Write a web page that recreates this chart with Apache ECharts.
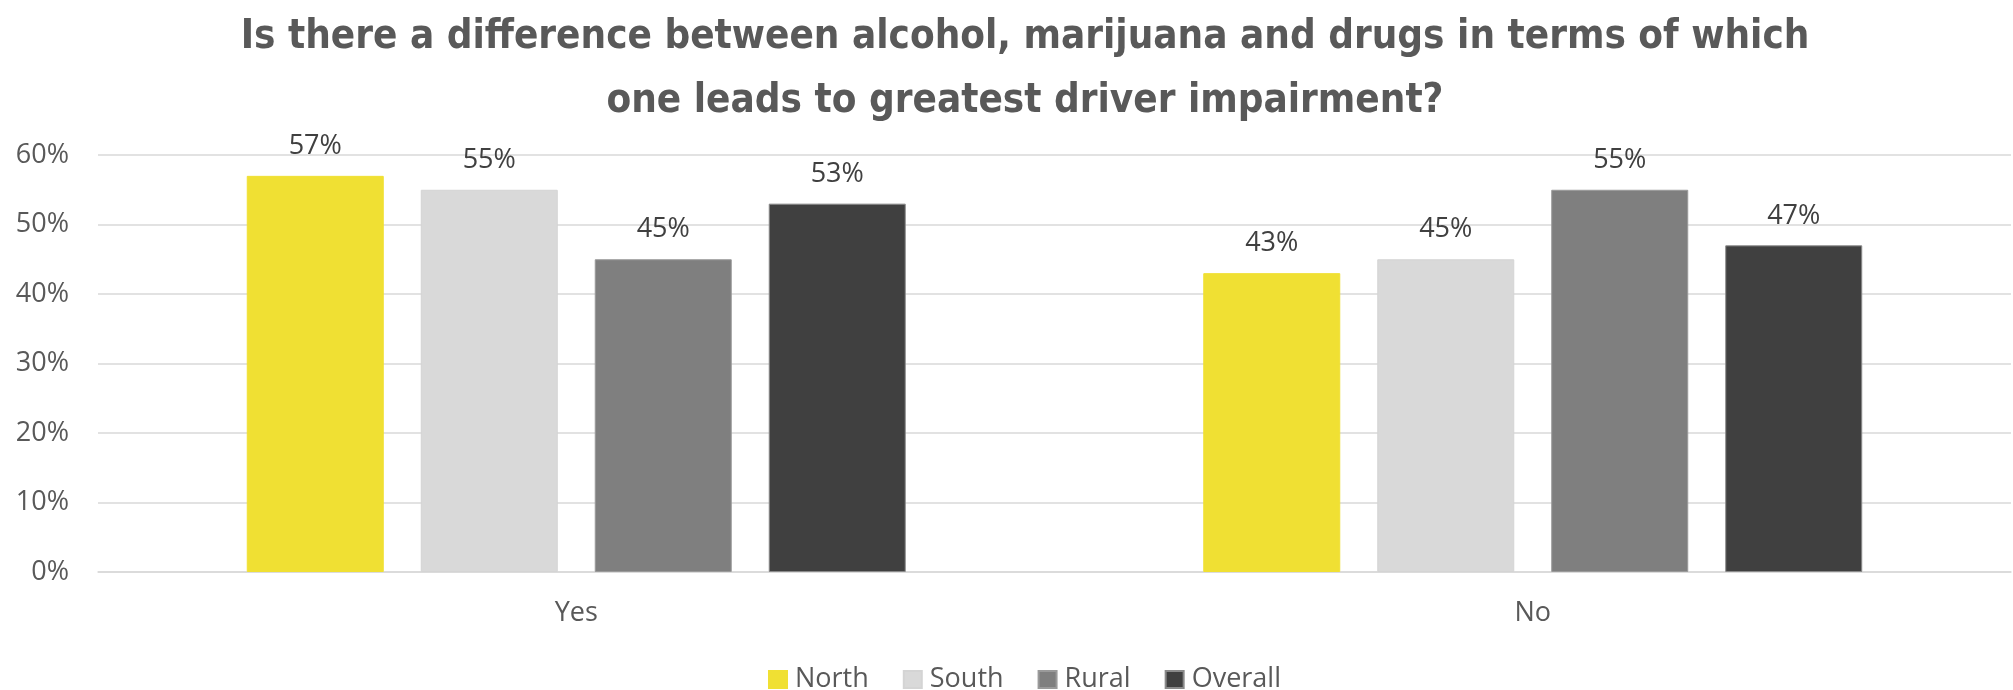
<!DOCTYPE html>
<html>
<head>
<meta charset="utf-8">
<script src="https://cdn.jsdelivr.net/npm/echarts@6/dist/echarts.min.js"></script>
<style>
  html, body { margin: 0; padding: 0; background: #ffffff; }
  #chart { width: 2013px; height: 690px; }
</style>
</head>
<body>
<div id="chart"></div>
<script>
// Survey answers by region (percent of respondents)
const titleText = 'Is there a difference between alcohol, marijuana and drugs in terms of which\none leads to greatest driver impairment?';
const categories = ['Yes', 'No'];
const seriesNames = ['North', 'South', 'Rural', 'Overall'];
const north = [57, 43];
const south = [55, 45];
const rural = [45, 55];
const overall = [53, 47];
const yTicks = [0, 10, 20, 30, 40, 50, 60];

const seriesValues = [north, south, rural, overall];
const colors = ['#F0E033', '#D9D9D9', '#7F7F7F', '#404040'];
const borders = ['#F0E033', '#D4D4D4', '#9A9A9A', '#8A8A8A'];

const bodyFont = '"Open Sans", "Liberation Sans", sans-serif';

const chart = echarts.init(document.getElementById('chart'), null, { renderer: 'canvas' });

chart.setOption({
  backgroundColor: '#ffffff',
  animation: false,
  title: {
    text: titleText,
    left: 1020,
    top: 1,
    textAlign: 'center',
    textStyle: {
      fontFamily: '"DejaVu Sans Condensed", "Open Sans", sans-serif',
      fontWeight: 'bold',
      fontSize: 40,
      lineHeight: 64,
      color: '#595959'
    }
  },
  legend: {
    left: 763,
    top: 661,
    itemWidth: 18,
    itemHeight: 17,
    itemGap: 34,
    icon: 'rect',
    textStyle: {
      fontFamily: bodyFont,
      fontSize: 27,
      color: '#595959',
      padding: [0, 0, 0, 3]
    },
    data: seriesNames
  },
  grid: {
    left: 98,
    right: 2,
    top: 155,
    bottom: 118,
    containLabel: false
  },
  xAxis: {
    type: 'category',
    data: categories,
    axisLine: { show: true, lineStyle: { color: '#D9D9D9', width: 1.5 } },
    axisTick: { show: false },
    axisLabel: {
      margin: 28,
      fontFamily: bodyFont,
      fontSize: 27,
      color: '#595959'
    }
  },
  yAxis: {
    type: 'value',
    min: yTicks[0],
    max: yTicks[yTicks.length - 1],
    interval: yTicks[1] - yTicks[0],
    axisLine: { show: false },
    axisTick: { show: false },
    axisLabel: {
      margin: 29,
      fontFamily: bodyFont,
      fontSize: 27,
      color: '#595959',
      formatter: '{value}%'
    },
    splitLine: { lineStyle: { color: '#D9D9D9', width: 1.5 } }
  },
  series: seriesNames.map((name, i) => ({
    name: name,
    type: 'bar',
    data: seriesValues[i],
    barWidth: 137,
    barGap: '27%',
    itemStyle: {
      color: colors[i],
      borderColor: borders[i],
      borderWidth: 1
    },
    label: {
      show: true,
      position: 'top',
      distance: 16,
      formatter: '{c}%',
      fontFamily: bodyFont,
      fontSize: 27,
      color: '#404040'
    }
  }))
});
</script>
</body>
</html>
